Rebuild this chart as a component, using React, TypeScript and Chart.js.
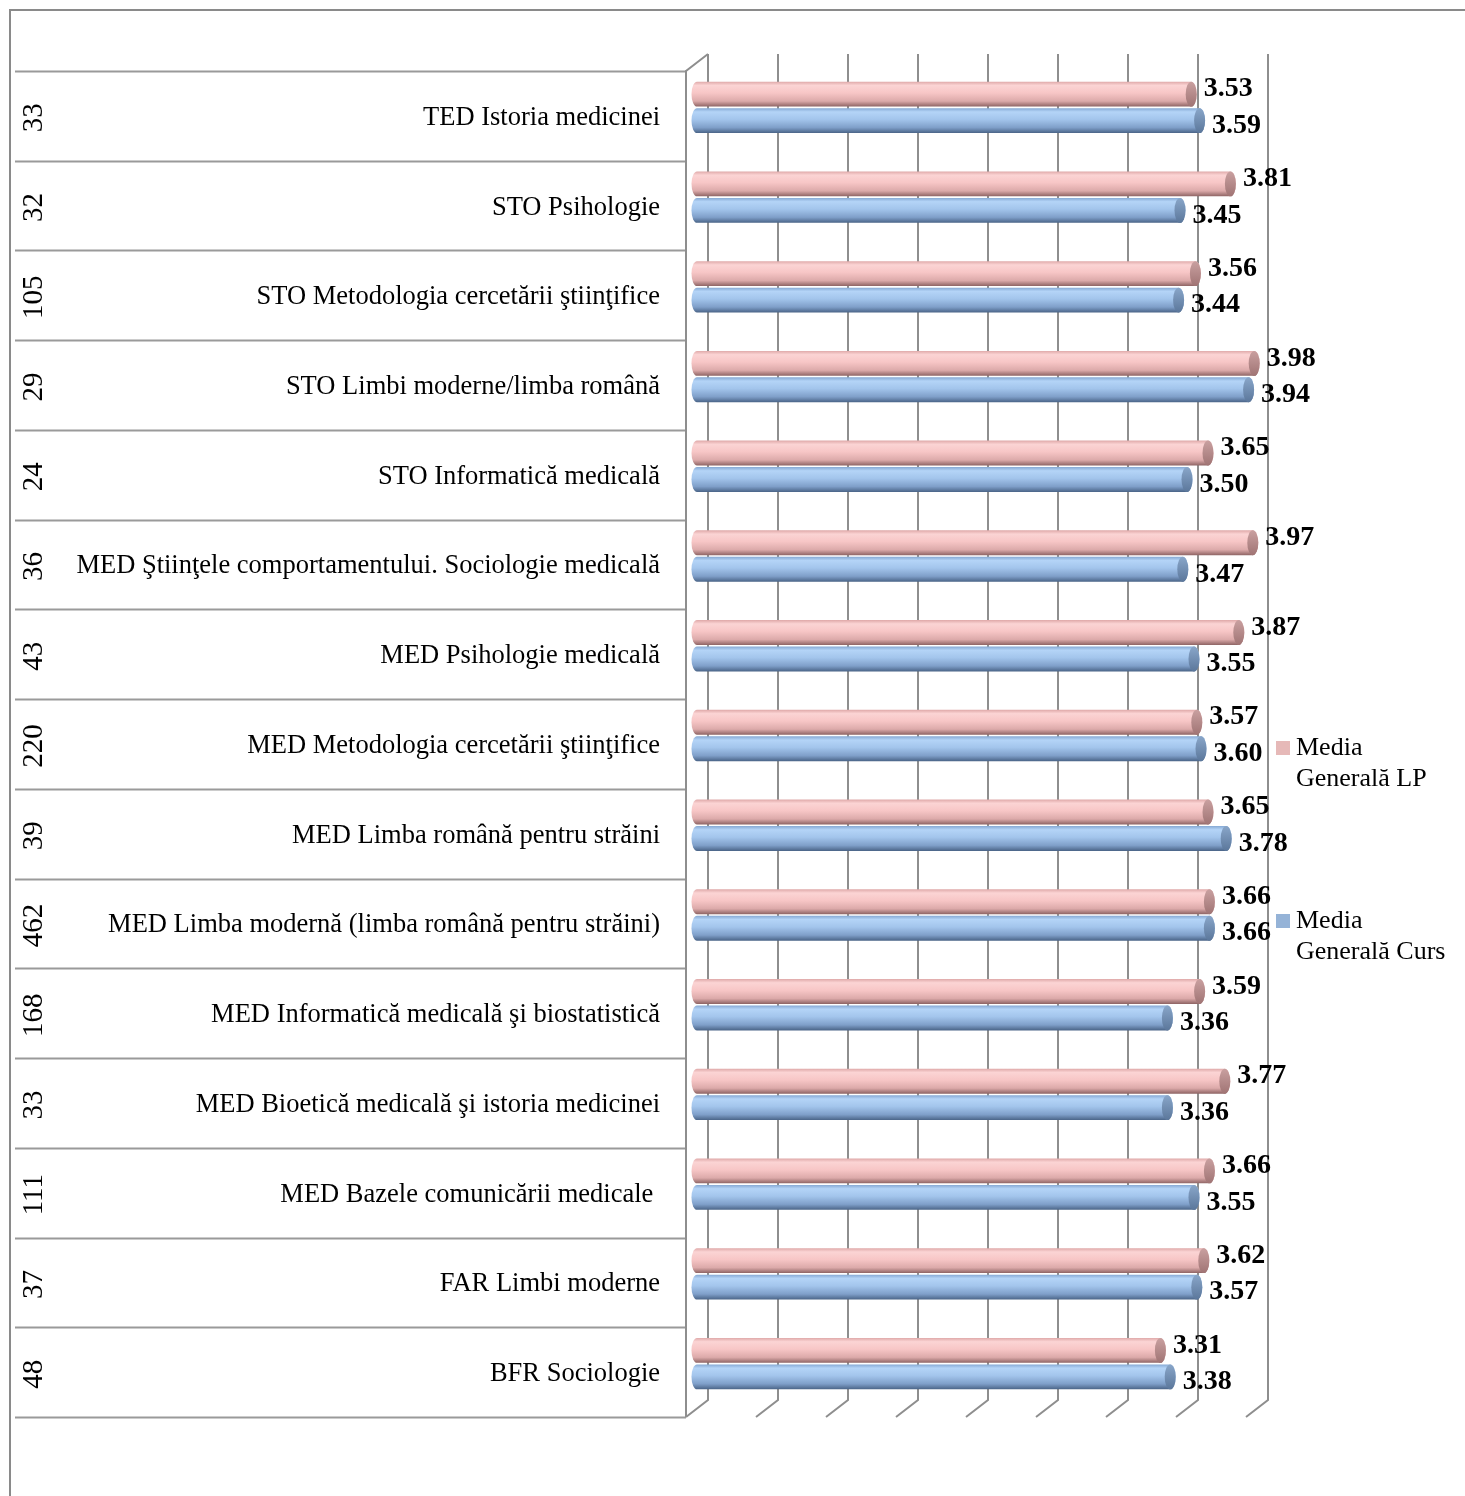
import React, { useEffect, useRef } from 'react';
import { Chart, registerables } from 'chart.js';

Chart.register(...registerables);

// ---------- data ----------
const categories = [
  'TED Istoria medicinei',
  'STO Psihologie',
  'STO Metodologia cercetării ştiinţifice',
  'STO Limbi moderne/limba română',
  'STO Informatică medicală',
  'MED Ştiinţele comportamentului. Sociologie medicală',
  'MED Psihologie medicală',
  'MED Metodologia cercetării ştiinţifice',
  'MED Limba română pentru străini',
  'MED Limba modernă (limba română pentru străini)',
  'MED Informatică medicală şi biostatistică',
  'MED Bioetică medicală şi istoria medicinei',
  'MED Bazele comunicării medicale ',
  'FAR Limbi moderne',
  'BFR Sociologie',
];
const respondents = ['33', '32', '105', '29', '24', '36', '43', '220', '39', '462', '168', '33', '111', '37', '48'];
const mediaLP = [3.53, 3.81, 3.56, 3.98, 3.65, 3.97, 3.87, 3.57, 3.65, 3.66, 3.59, 3.77, 3.66, 3.62, 3.31];
const mediaCurs = [3.59, 3.45, 3.44, 3.94, 3.5, 3.47, 3.55, 3.6, 3.78, 3.66, 3.36, 3.36, 3.55, 3.57, 3.38];
const seriesLabels = ['Media Generală LP', 'Media Generală Curs'];
const valueGrid = [0, 0.5, 1, 1.5, 2, 2.5, 3, 3.5, 4];

// ---------- styling ----------
const FONT = "'Liberation Serif', 'Times New Roman', serif";
const DX = 22;
const DY = 17;
const GRID = '#8e8e8e';
const legendColors = ['#e6b9b8', '#95b3d7'];
const cylStyles = [
  {
    stops: [
      [0, '#dfa9a9'],
      [0.15, '#fbd4d4'],
      [0.45, '#f7c6c6'],
      [0.78, '#dcaaaa'],
      [1, '#8e6464'],
    ],
    cap: ['#c9a0a0', '#a07474'],
  },
  {
    stops: [
      [0, '#86a9d4'],
      [0.15, '#b4d4f7'],
      [0.45, '#a3c5ec'],
      [0.78, '#7f9fc9'],
      [1, '#4a6487'],
    ],
    cap: ['#89a6c9', '#5b779b'],
  },
];

const threeDPlugin = {
  id: 'threeD',
  beforeDatasetsDraw(chart: any) {
    const ctx = chart.ctx;
    const { left, top, bottom } = chart.chartArea;
    const xs = chart.scales.x;
    const ys = chart.scales.y;
    const y2 = chart.scales.y2;
    ctx.save();
    // outer frame
    ctx.strokeStyle = '#8a8a8a';
    ctx.lineWidth = 2;
    ctx.beginPath();
    ctx.moveTo(10, chart.height);
    ctx.lineTo(10, 10);
    ctx.lineTo(chart.width, 10);
    ctx.stroke();

    // table row lines
    ctx.strokeStyle = '#9a9a9a';
    ctx.lineWidth = 2;
    for (let i = 0; i <= categories.length; i++) {
      const yb = Math.round(ys.getPixelForValue(i - 0.5)) + 0.5;
      ctx.beginPath();
      ctx.moveTo(y2.left, yb);
      ctx.lineTo(left, yb);
      ctx.stroke();
    }

    // walls
    ctx.strokeStyle = GRID;
    ctx.lineWidth = 2;
    ctx.beginPath();
    ctx.moveTo(left, bottom);
    ctx.lineTo(left, top);
    ctx.lineTo(left + DX, top - DY);
    ctx.stroke();
    valueGrid.forEach((v) => {
      const px = xs.getPixelForValue(v);
      ctx.beginPath();
      ctx.moveTo(px + DX, top - DY);
      ctx.lineTo(px + DX, bottom - DY);
      ctx.lineTo(px, bottom);
      ctx.stroke();
    });
    ctx.restore();
  },
  afterDatasetsDraw(chart: any) {
    const ctx = chart.ctx;
    ctx.save();
    chart.data.datasets.forEach((ds: any, di: number) => {
      const meta = chart.getDatasetMeta(di);
      const st = cylStyles[di];
      meta.data.forEach((el: any, i: number) => {
        const { x, y, base, height } = el.getProps(['x', 'y', 'base', 'height'], true);
        const x0 = base + DX / 2;
        const x1 = x + DX / 2;
        const yc = y - DY / 2;
        const r = height / 2;
        const rx = 5.5;
        const g = ctx.createLinearGradient(0, yc - r, 0, yc + r);
        st.stops.forEach(([o, c]: any) => g.addColorStop(o, c));
        ctx.fillStyle = g;
        ctx.beginPath();
        ctx.moveTo(x1, yc - r);
        ctx.lineTo(x0, yc - r);
        ctx.ellipse(x0, yc, rx, r, 0, -Math.PI / 2, Math.PI / 2, true);
        ctx.lineTo(x1, yc + r);
        ctx.ellipse(x1, yc, rx, r, 0, Math.PI / 2, -Math.PI / 2, true);
        ctx.closePath();
        ctx.fill();
        const cg = ctx.createLinearGradient(0, yc - r, 0, yc + r);
        cg.addColorStop(0, st.cap[0]);
        cg.addColorStop(1, st.cap[1]);
        ctx.fillStyle = cg;
        ctx.beginPath();
        ctx.ellipse(x1, yc, rx, r, 0, 0, Math.PI * 2);
        ctx.fill();

        // value label
        ctx.fillStyle = '#000';
        ctx.font = `bold 28px ${FONT}`;
        ctx.textAlign = 'left';
        ctx.textBaseline = 'middle';
        const v = ds.data[i] as number;
        ctx.fillText(v.toFixed(2), x1 + rx + 7, yc + (di === 0 ? -5 : 5));
      });
    });
    ctx.restore();
  },
  afterDraw(chart: any) {
    const ctx = chart.ctx;
    const { right, top } = chart.chartArea;
    const lx = right + 30;
    const itemTops = [top + 670, top + 843];
    ctx.save();
    ctx.font = `26px ${FONT}`;
    ctx.textAlign = 'left';
    ctx.textBaseline = 'middle';
    seriesLabels.forEach((name, i) => {
      const t = itemTops[i];
      ctx.fillStyle = legendColors[i];
      ctx.fillRect(lx, t, 14, 14);
      ctx.fillStyle = '#000';
      const sp = name.indexOf(' ');
      ctx.fillText(name.slice(0, sp), lx + 20, t + 7);
      ctx.fillText(name.slice(sp + 1), lx + 20, t + 38);
    });
    ctx.restore();
  },
};

export default function App() {
  const canvasRef = useRef<HTMLCanvasElement | null>(null);

  useEffect(() => {
    document.body.style.margin = '0';
    document.body.style.overflow = 'hidden';
    const canvas = canvasRef.current;
    if (!canvas) return;
    const chart = new Chart(canvas, {
      type: 'bar',
      data: {
        labels: categories,
        datasets: [
          {
            label: seriesLabels[0],
            data: mediaLP,
            backgroundColor: 'rgba(0,0,0,0)',
            borderWidth: 0,
            categoryPercentage: 0.59,
            barPercentage: 0.94,
          },
          {
            label: seriesLabels[1],
            data: mediaCurs,
            backgroundColor: 'rgba(0,0,0,0)',
            borderWidth: 0,
            categoryPercentage: 0.59,
            barPercentage: 0.94,
          },
        ],
      },
      options: {
        indexAxis: 'y',
        responsive: false,
        animation: false,
        events: [],
        layout: { padding: { left: 15, top: 71, bottom: 79, right: 219 } },
        plugins: {
          legend: { display: false },
          tooltip: { enabled: false },
        },
        scales: {
          x: {
            type: 'linear',
            min: 0,
            max: 4,
            display: false,
            ticks: { stepSize: 0.5 },
          },
          y: {
            type: 'category',
            position: 'left',
            weight: 0,
            grid: { display: false, drawTicks: false },
            border: { display: false },
            ticks: {
              autoSkip: false,
              padding: 26,
              labelOffset: 2,
              crossAlign: 'near',
              color: '#000',
              font: { family: FONT, size: 26.5 },
            },
            afterFit: (s: any) => {
              s.width = 626;
            },
          },
          y2: {
            type: 'category',
            position: 'left',
            weight: 1,
            labels: respondents,
            offset: true,
            grid: { display: false, drawTicks: false, offset: true },
            border: { display: false },
            ticks: {
              autoSkip: false,
              minRotation: 90,
              maxRotation: 90,
              crossAlign: 'center',
              padding: 4,
              labelOffset: 2,
              color: '#000',
              font: { family: FONT, size: 29 },
            },
            afterFit: (s: any) => {
              s.width = 45;
            },
          },
        },
      } as any,
      plugins: [threeDPlugin],
    });
    return () => chart.destroy();
  }, []);

  return (
    <div style={{ width: 1465, height: 1496 }}>
      <canvas ref={canvasRef} width={1465} height={1496} />
    </div>
  );
}
